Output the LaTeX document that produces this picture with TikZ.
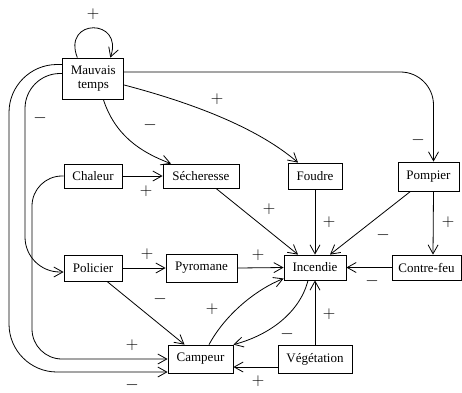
\documentclass[tikz,border=0pt]{standalone}
\usepackage{fontspec}
\setmainfont{Liberation Serif}
\usetikzlibrary{arrows.meta}
\begin{document}
\begin{tikzpicture}[x=1pt,y=-1pt,
  box/.style={draw, line width=0.8pt, inner sep=0pt, font=\fontsize{13}{14}\selectfont, align=center},
  conn/.style={line width=0.8pt, -{Straight Barb[length=9pt,width=10pt,line width=0.8pt]}},
  sign/.style={inner sep=0pt, font=\fontsize{16}{16}\selectfont}]
\useasboundingbox (0,0) rectangle (462,392);
% nodes
\node[box, minimum width=61pt, minimum height=41pt] (mt) at (93.3,78.5) {Mauvais\\temps};
\node[box, minimum width=58pt, minimum height=24pt] (ch) at (93,176) {Chaleur};
\node[box, minimum width=76pt, minimum height=24pt] (se) at (201,176) {Sécheresse};
\node[box, minimum width=54pt, minimum height=26pt] (fo) at (315,176) {Foudre};
\node[box, minimum width=61pt, minimum height=29pt] (po) at (428.5,176.5) {Pompier};
\node[box, minimum width=58pt, minimum height=26pt] (pol) at (93,268) {Policier};
\node[box, minimum width=71pt, minimum height=28pt] (py) at (201.5,268) {Pyromane};
\node[box, minimum width=62pt, minimum height=25pt] (inc) at (315,267.5) {Incendie};
\node[box, minimum width=69pt, minimum height=25pt] (cf) at (426.5,267.5) {Contre-feu};
\node[box, minimum width=65pt, minimum height=28pt] (ca) at (200.5,359) {Campeur};
\node[box, minimum width=74pt, minimum height=28pt] (ve) at (315,359) {Végétation};
% connectors
\draw[conn] ([xshift=-16pt]mt.north) .. controls (62,18) and (124,18) .. ([xshift=17pt]mt.north);
\draw[conn, rounded corners=33pt] ([yshift=6.5pt]mt.east) -| ([xshift=5pt]po.north);
\draw[conn] ([yshift=-6.5pt]mt.east) .. controls (200,105) and (260,130) .. ([xshift=-17pt]fo.north);
\draw[conn] ([xshift=10pt]mt.south) .. controls (115,135) and (140,152) .. ([xshift=-30pt]se.north);
\draw[conn, rounded corners=48pt] ([yshift=14pt]mt.west) -- (9,64.5) -- (9,372) -- ([yshift=-13pt]ca.west);
\draw[conn, rounded corners=35pt] ([yshift=5pt]mt.west) -- (25,73.5) -- (25,272) -- ([yshift=-4pt]pol.west);
\draw[conn, rounded corners=30pt] (ch.west) -- (32,176) -- (32,359) -- (ca.west);
\draw[conn] (ch.east) -- (se.west);
\draw[conn] ([xshift=15pt]se.south) -- ([xshift=-17pt]inc.north);
\draw[conn] (fo.south) -- (inc.north);
\draw[conn] ([xshift=-18pt]po.south) -- ([xshift=15pt]inc.north);
\draw[conn] ([xshift=5pt]po.south) -- ([xshift=6.5pt]cf.north);
\draw[conn] (cf.west) -- (inc.east);
\draw[conn] (pol.east) -- (py.west);
\draw[conn] (py.east) -- (inc.west);
\draw[conn] ([xshift=14pt]pol.south) -- ([xshift=-16pt]ca.north);
\draw[conn] ([xshift=8.5pt]ca.north) .. controls (225,315) and (255,290) .. ([yshift=-11pt]inc.west);
\draw[conn] ([xshift=-7pt]inc.south) .. controls (300,312) and (270,335) .. (ca.north east);
\draw[conn] (ve.north) -- (inc.south);
\draw[conn] ([yshift=-8pt]ve.west) -- ([yshift=-8pt]ca.east);
% signs
\node[sign] (s1) at (93,14) {$+$};
\node[sign] (s2) at (40,118) {$-$};
\node[sign] (s3) at (150,125) {$-$};
\node[sign] (s4) at (217,99) {$+$};
\node[sign] (s5) at (418,140) {$-$};
\node[sign] (s6) at (146,191) {$+$};
\node[sign] (s7) at (269,209) {$+$};
\node[sign] (s8) at (329,222) {$+$};
\node[sign] (s9) at (383,235) {$-$};
\node[sign] (s10) at (448,222) {$+$};
\node[sign] (s11) at (258,255) {$+$};
\node[sign] (s12) at (372,281) {$-$};
\node[sign] (s13) at (329,314) {$+$};
\node[sign] (s14) at (287,334) {$-$};
\node[sign] (s15) at (258,381) {$+$};
\node[sign] (s16) at (147,254) {$+$};
\node[sign] (s17) at (160,299) {$-$};
\node[sign] (s18) at (212,309) {$+$};
\node[sign] (s19) at (132,345) {$+$};
\node[sign] (s20) at (132,385) {$-$};
\end{tikzpicture}
\end{document}
